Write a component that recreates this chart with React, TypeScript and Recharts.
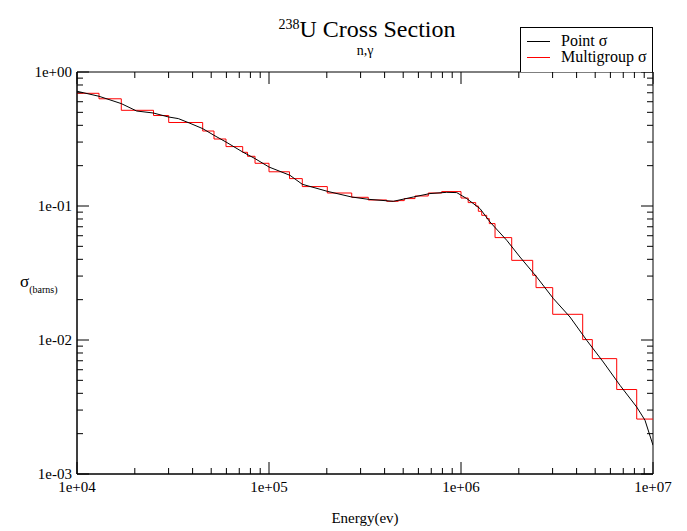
import React from 'react';
import { ComposedChart, Line, XAxis, YAxis, ReferenceArea, Legend } from 'recharts';

// Group boundaries (eV) of the multigroup structure and the group-averaged sigma (barns)
const groupBounds = [
  1e4, 13020, 17010, 25030, 30040, 45140, 51700, 59700, 72950, 77270, 84560, 1e5,
  127900, 149100, 201200, 269700, 328900, 410200, 471400, 506600, 576100, 675500,
  793400, 1.0e6, 1.09e6, 1.193e6, 1.231e6, 1.282e6, 1.361e6, 1.404e6, 1.504e6,
  1.837e6, 2.363e6, 2.459e6, 3.004e6, 4.304e6, 4.83e6, 6.471e6, 8.225e6, 1e7,
];
const groupSigma = [
  0.6935, 0.631, 0.5178, 0.4734, 0.42, 0.3627, 0.3162, 0.2775, 0.2516, 0.2349, 0.2083,
  0.18, 0.1601, 0.1396, 0.125, 0.1161, 0.1109, 0.1084, 0.1097, 0.1136, 0.1188, 0.125,
  0.1281, 0.1147, 0.106, 0.1, 0.0913, 0.0852, 0.0805, 0.0739, 0.0581, 0.0393, 0.0304,
  0.0246, 0.01555, 0.01007, 0.00726, 0.00427, 0.00257,
];

// Pointwise cross section
const pointEnergy = [
  1e4, 13020, 17010, 20450, 24970, 30040, 33710, 38770, 45140, 51700, 59700, 72950,
  84560, 1e5, 128600, 149100, 201200, 269700, 328900, 444000, 564500, 689400, 842500,
  950000, 1.071e6, 1.256e6, 1.416e6, 1.73e6, 2.029e6, 2.48e6, 3.025e6, 3.696e6,
  4.515e6, 5.509e6, 6.731e6, 8.225e6, 9.085e6, 1e7,
];
const pointSigma = [
  0.718, 0.659, 0.581, 0.5116, 0.4943, 0.4614, 0.449, 0.4143, 0.378, 0.337, 0.3003,
  0.2529, 0.2258, 0.1954, 0.1694, 0.1452, 0.1287, 0.1167, 0.1122, 0.1084, 0.1167,
  0.1238, 0.1265, 0.1259, 0.1136, 0.0956, 0.076, 0.0555, 0.0416, 0.0295, 0.0204,
  0.01484, 0.00995, 0.00685, 0.00459, 0.00316, 0.00252, 0.00164,
];

const xDecades = [4, 5, 6];
const yDecades = [-3, -2, -1];
const xTicks = [...xDecades.flatMap((d) => [1, 2, 3, 4, 5, 6, 7, 8, 9].map((m) => m * 10 ** d)), 1e7];
const yTicks = [...yDecades.flatMap((d) => [1, 2, 3, 4, 5, 6, 7, 8, 9].map((m) => +(m * 10 ** d).toPrecision(6))), 1];

const stepData = groupBounds.map((e, i) => ({
  e,
  sigma: groupSigma[Math.min(i, groupSigma.length - 1)],
}));
const pointData = pointEnergy.map((e, i) => ({ e, sigma: pointSigma[i] }));

const FONT = "'Liberation Serif', 'DejaVu Serif', 'Times New Roman', serif";
const W = 687;
const H = 531;
const PLOT_LEFT = 77;
const PLOT_RIGHT = 653;
const PLOT_TOP = 72;
const PLOT_BOTTOM = 474;
const MAJOR = 12;
const MINOR = 6;

const isDecade = (v: number) => {
  const l = Math.log10(v);
  return Math.abs(l - Math.round(l)) < 1e-9;
};
const fmtExp = (v: number) => {
  const p = Math.round(Math.log10(v));
  const s = p < 0 ? '-' : '+';
  return `1e${s}${String(Math.abs(p)).padStart(2, '0')}`;
};

const XTick = (props: any) => {
  const { x, payload } = props;
  const v = payload.value as number;
  const major = isDecade(v);
  const len = major ? MAJOR : MINOR;
  return (
    <g>
      <line x1={x} x2={x} y1={PLOT_BOTTOM} y2={PLOT_BOTTOM - len} stroke="#000" strokeWidth={1} />
      <line x1={x} x2={x} y1={PLOT_TOP} y2={PLOT_TOP + len} stroke="#000" strokeWidth={1} />
      {major && (
        <text x={x} y={PLOT_BOTTOM + 18} textAnchor="middle" fontFamily={FONT} fontSize={15} fill="#000">
          {fmtExp(v)}
        </text>
      )}
    </g>
  );
};

const YTick = (props: any) => {
  const { y, payload } = props;
  const v = payload.value as number;
  const major = isDecade(v);
  const len = major ? MAJOR : MINOR;
  return (
    <g>
      <line x1={PLOT_LEFT} x2={PLOT_LEFT + len} y1={y} y2={y} stroke="#000" strokeWidth={1} />
      <line x1={PLOT_RIGHT} x2={PLOT_RIGHT - len} y1={y} y2={y} stroke="#000" strokeWidth={1} />
      {major && (
        <text x={PLOT_LEFT - 5} y={y + 5} textAnchor="end" fontFamily={FONT} fontSize={15} fill="#000">
          {fmtExp(v)}
        </text>
      )}
    </g>
  );
};

const LegendBox = () => (
  <div
    style={{
      width: 133,
      height: 45,
      boxSizing: 'border-box',
      border: '1px solid #000',
      borderBottom: 'none',
      background: '#fff',
      fontFamily: FONT,
      fontSize: 16,
      color: '#000',
      position: 'relative',
    }}
  >
    {[
      { name: 'Point σ', color: '#000' },
      { name: 'Multigroup σ', color: '#ff0000' },
    ].map((it, i) => (
      <div key={it.name} style={{ position: 'absolute', left: 6, top: 5 + i * 16, height: 16, display: 'flex', alignItems: 'center', whiteSpace: 'nowrap' }}>
        <div style={{ width: 23, height: 1, background: it.color, marginRight: 11 }} />
        <span style={{ lineHeight: '16px' }}>{it.name}</span>
      </div>
    ))}
  </div>
);

export default function App() {
  return (
    <div style={{ position: 'absolute', left: 0, top: 0, width: W, height: H, background: '#fff' }}>
      <ComposedChart width={W} height={H} margin={{ top: PLOT_TOP, right: W - PLOT_RIGHT, bottom: 0, left: 0 }}>
        <XAxis
          dataKey="e"
          type="number"
          scale="log"
          domain={[1e4, 1e7]}
          ticks={xTicks}
          interval={0}
          height={H - PLOT_BOTTOM}
          tickLine={false}
          axisLine={{ stroke: '#000' }}
          tick={XTick}
          allowDataOverflow
        />
        <YAxis
          dataKey="sigma"
          type="number"
          scale="log"
          domain={[1e-3, 1]}
          ticks={yTicks}
          interval={0}
          width={PLOT_LEFT}
          tickLine={false}
          axisLine={{ stroke: '#000' }}
          tick={YTick}
          allowDataOverflow
        />
        <ReferenceArea x1={1e4} x2={1e7} y1={1e-3} y2={1} fill="none" stroke="#000" strokeWidth={1} />
        <Line
          data={stepData}
          dataKey="sigma"
          type="stepAfter"
          stroke="#ff0000"
          strokeWidth={1}
          dot={false}
          activeDot={false}
          isAnimationActive={false}
          name="Multigroup σ"
        />
        <Line
          data={pointData}
          dataKey="sigma"
          type="linear"
          stroke="#000"
          strokeWidth={1}
          dot={false}
          activeDot={false}
          isAnimationActive={false}
          name="Point σ"
        />
        <Legend
          layout="vertical"
          align="center"
          verticalAlign="middle"
          content={LegendBox}
          wrapperStyle={{ top: 27, left: 520, width: 133, height: 45 }}
        />
      </ComposedChart>

      {/* Title and subtitle */}
      <div
        style={{
          position: 'absolute',
          left: 0,
          width: 2 * 367,
          top: 14,
          textAlign: 'center',
          fontFamily: FONT,
          fontSize: 24,
          lineHeight: '30px',
          color: '#000',
        }}
      >
        <span style={{ fontSize: 14, verticalAlign: 'top', position: 'relative', top: -4 }}>238</span>U Cross Section
      </div>
      <div
        style={{
          position: 'absolute',
          left: 0,
          width: 2 * 365,
          top: 43,
          textAlign: 'center',
          fontFamily: FONT,
          fontSize: 14,
          lineHeight: '16px',
          color: '#000',
        }}
      >
        n,γ
      </div>

      {/* Axis titles */}
      <div style={{ position: 'absolute', left: 20, top: 272, fontFamily: FONT, color: '#000', whiteSpace: 'nowrap' }}>
        <span style={{ fontSize: 17 }}>σ</span>
        <span style={{ fontSize: 10, position: 'relative', top: 6 }}>(barns)</span>
      </div>
      <div
        style={{
          position: 'absolute',
          left: 0,
          width: 2 * 365,
          top: 509,
          textAlign: 'center',
          fontFamily: FONT,
          fontSize: 15,
          lineHeight: '18px',
          color: '#000',
        }}
      >
        Energy(ev)
      </div>
    </div>
  );
}
